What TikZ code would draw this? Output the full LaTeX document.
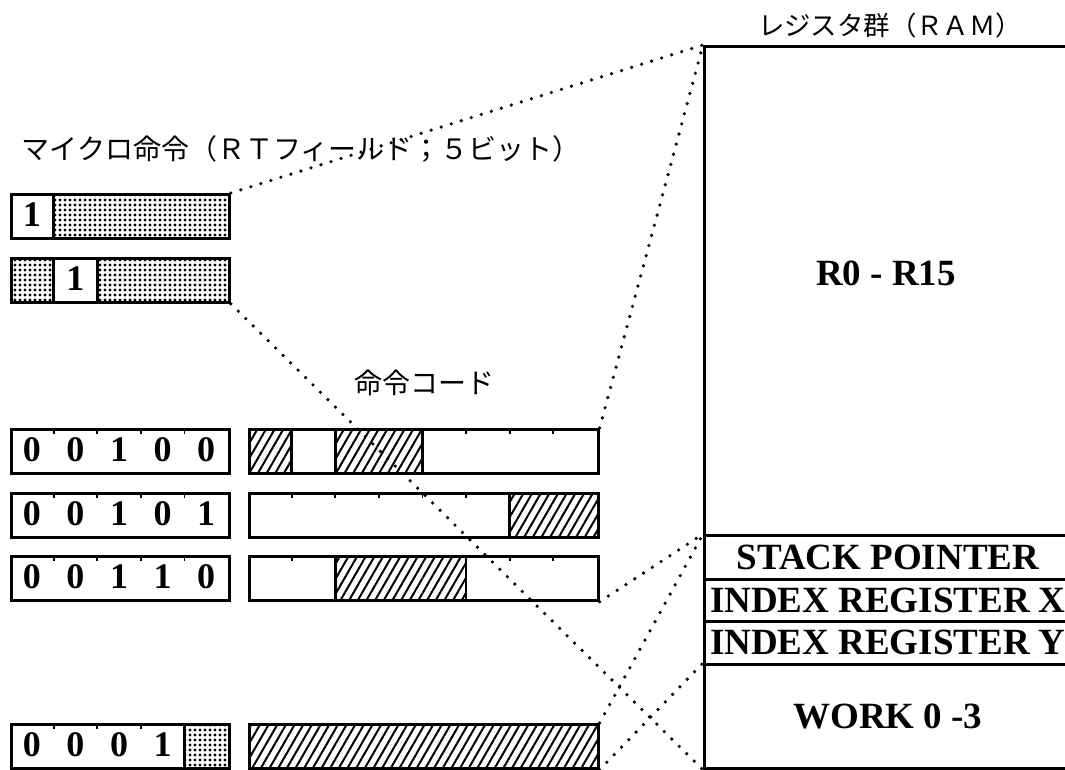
\documentclass[tikz,border=0pt]{standalone}
\usepackage{fontspec}
\setmainfont{Liberation Serif}
\newfontfamily\jpfont{Noto Sans CJK JP}
\usetikzlibrary{patterns.meta}
\tikzset{
  bitrow/.style={draw, line width=2.8pt, minimum height=44pt, inner sep=0pt, anchor=north west},
  regcell/.style={draw, line width=2.8pt, minimum width=367pt, inner sep=0pt, anchor=north west},
  hatchcell/.style={pattern={Lines[angle=60,distance=7.5pt,line width=2pt]}},
  dotcell/.style={pattern={Dots[distance=5pt,radius=1.6pt]}},
  bitnum/.style={font=\fontsize{36}{36}\selectfont\bfseries},
  regname/.style={font=\fontsize{37}{37}\selectfont\bfseries},
  jplabel/.style={font=\fontsize{28}{28}\jpfont},
  link/.style={line width=3.6pt, line cap=round, dash pattern=on 0pt off 10.5pt},
}
\begin{document}
\begin{tikzpicture}[x=1pt, y=-1pt]
  \useasboundingbox (0,0) rectangle (1065,770);
  % labels
  \node[jplabel, anchor=west] (title) at (18,149) {マイクロ命令（ＲＴフィールド；５ビット）};
  \node[jplabel] (codelbl) at (424,383) {命令コード};
  \node[jplabel, font=\fontsize{26.4}{26.4}\jpfont] (ramlbl) at (890,25) {レジスタ群（ＲＡＭ）};
  % micro instruction: bit 1 set
  \fill[dotcell] (53.6,193) rectangle (228,237);
  \node[bitrow, minimum width=218pt] (rtA) at (10,193) {};
  \draw[line width=2.8pt] (53.6,193) -- ++(0,44);
  \node[bitnum] (rtAd) at (31.8,215) {1};
  % micro instruction: bit 2 set
  \fill[dotcell] (10,257) rectangle (53.6,301);
  \fill[dotcell] (97.2,257) rectangle (228,301);
  \node[bitrow, minimum width=218pt] (rtB) at (10,257) {};
  \draw[line width=2.8pt] (53.6,257) -- ++(0,44) (97.2,257) -- ++(0,44);
  \node[bitnum] (rtBd) at (75.4,279) {1};
  % RT field values
  \foreach \y/\code in {428/{0,0,1,0,0}, 492/{0,0,1,0,1}, 555/{0,0,1,1,0}} {
    \node[bitrow, minimum width=218pt] (rt\y) at (10,\y) {};
    \foreach \d [count=\i from 0] in \code
      \node[bitnum] (rt\y d\i) at ({31.8+43.6*\i},\y+22) {\d};
    \foreach \i in {1,...,4}
      \draw[line width=1.8pt] ({10+43.6*\i},\y) -- ++(0,6);
  }
  % RT field 0001x
  \fill[dotcell] (184.4,723) rectangle (228,767);
  \node[bitrow, minimum width=218pt] (rt723) at (10,723) {};
  \draw[line width=2.8pt] (184.4,723) -- ++(0,44);
  \foreach \d [count=\i from 0] in {0,0,0,1}
    \node[bitnum] (rt723d\i) at ({31.8+43.6*\i},745) {\d};
  \foreach \i in {1,...,3}
    \draw[line width=1.8pt] ({10+43.6*\i},723) -- ++(0,6);
  % instruction code fields
  \foreach \b in {0,2,3} \fill[hatchcell] ({248+43.6*\b},428) rectangle ++(43.6,44);
  \foreach \b in {6,7} \fill[hatchcell] ({248+43.6*\b},492) rectangle ++(43.6,44);
  \foreach \b in {2,3,4} \fill[hatchcell] ({248+43.6*\b},555) rectangle ++(43.6,44);
  \fill[hatchcell] (248,723) rectangle ++(348.8,44);
  \foreach \y/\n in {428/1, 492/2, 555/3, 723/4}
    \node[bitrow, minimum width=348.8pt] (op\n) at (248,\y) {};
  \foreach \y/\b in {428/1, 428/2, 428/4, 492/6, 555/2, 555/5}
    \draw[line width=2.8pt] ({248+43.6*\b},\y) -- ++(0,44);
  \foreach \y/\b in {428/5, 428/6, 428/7, 492/1, 492/2, 492/3, 492/4, 492/5, 555/1, 555/6, 555/7}
    \draw[line width=1.8pt] ({248+43.6*\b},\y) -- ++(0,6);
  % register file
  \node[regcell, minimum height=489pt] (ram) at (703,45) {};
  \node[regname] (ramtxt) at (886,273) {R0 - R15};
  \node[regcell, regname, minimum height=44pt] (sp) at (703,534) {STACK POINTER};
  \node[regcell, regname, minimum height=42pt] (ixr) at (703,578) {INDEX REGISTER X};
  \node[regcell, regname, minimum height=43pt] (iyr) at (703,620) {INDEX REGISTER Y};
  \node[regcell, regname, minimum height=104pt] (work) at (703,663) {WORK 0 -3};
  % dotted links
  \draw[link] (rtA.north east) -- (ram.north west);
  \draw[link] (op1.north east) -- (ram.north west);
  \draw[link] (rtB.south east) -- (work.south west);
  \draw[link] (op3.south east) -- (sp.north west);
  \draw[link] (op4.north east) -- (sp.north west);
  \draw[link] (op4.south east) -- (work.north west);
\end{tikzpicture}
\end{document}
